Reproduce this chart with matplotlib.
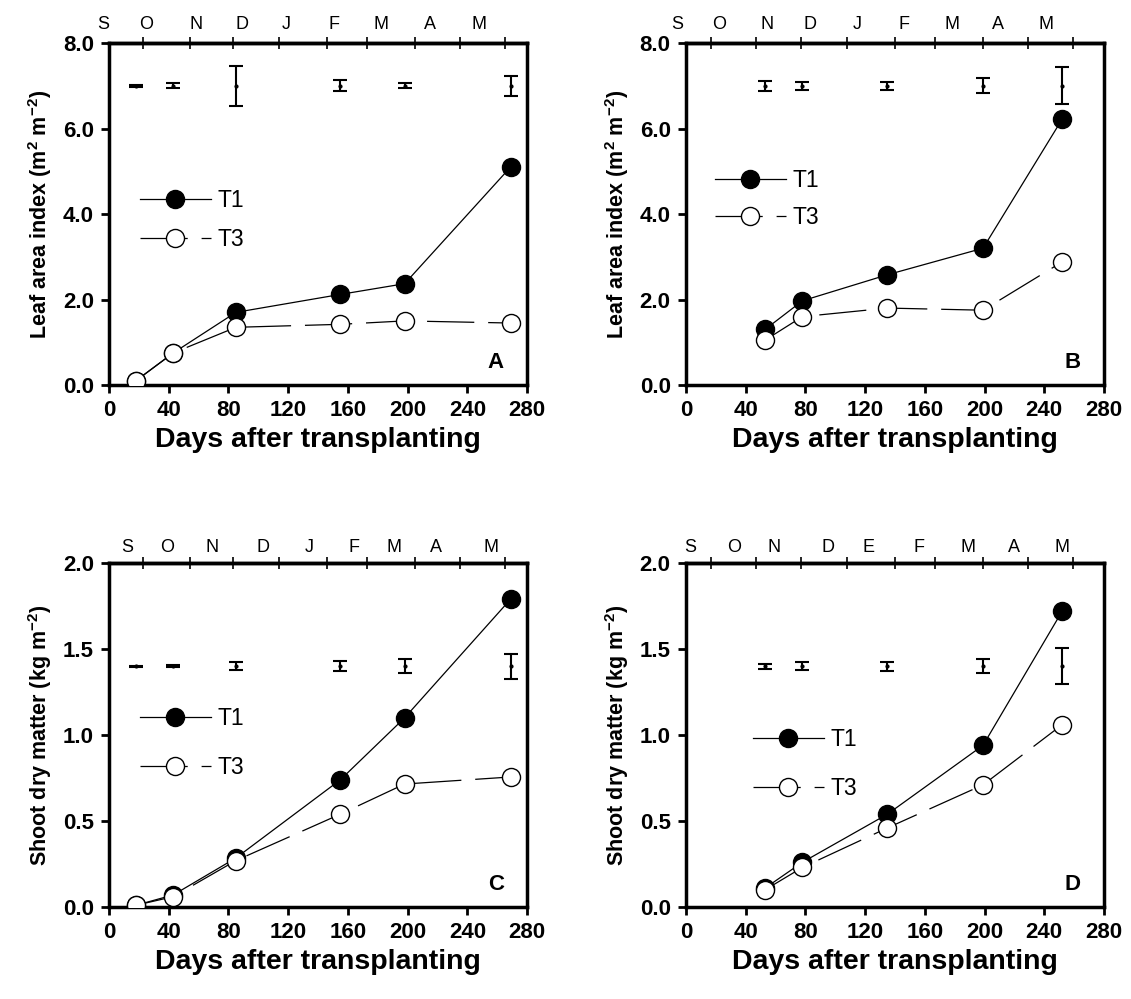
# Librerias

import numpy as np
import matplotlib
matplotlib.use("Agg")
import matplotlib.pyplot as plt

plt.rcParams["font.family"] = ["Liberation Sans", "DejaVu Sans"]
plt.rcParams["mathtext.default"] = "regular"
plt.rcParams["lines.scale_dashes"] = False

# Datos

dias_ac = [18, 43, 85, 155, 198, 269]
dias_bd = [53, 78, 135, 199, 252]

lai_a_t1 = [0.10, 0.75, 1.70, 2.12, 2.37, 5.10]
lai_a_t3 = [0.10, 0.75, 1.35, 1.42, 1.50, 1.45]
lai_a_err = [0.02, 0.06, 0.47, 0.13, 0.06, 0.24]

lai_b_t1 = [1.30, 1.97, 2.58, 3.20, 6.22]
lai_b_t3 = [1.05, 1.60, 1.80, 1.75, 2.88]
lai_b_err = [0.12, 0.10, 0.10, 0.18, 0.43]

sdm_c_t1 = [0.01, 0.07, 0.285, 0.74, 1.10, 1.79]
sdm_c_t3 = [0.01, 0.06, 0.27, 0.54, 0.715, 0.756]
sdm_c_err = [0.003, 0.005, 0.024, 0.029, 0.042, 0.073]

sdm_d_t1 = [0.11, 0.26, 0.54, 0.94, 1.72]
sdm_d_t3 = [0.10, 0.23, 0.46, 0.71, 1.06]
sdm_d_err = [0.015, 0.022, 0.026, 0.041, 0.104]

# Eje superior de meses (posiciones en dias)

meses_a = ["S", "O", "N", "D", "J", "F", "M", "A", "M"]
meses_d = ["S", "O", "N", "D", "E", "F", "M", "A", "M"]

marcas_ac = [23, 54, 83, 114, 146, 173, 205, 235, 265]
marcas_bd = [17, 47, 77, 108, 140, 167, 199, 229, 259]

pos_meses_a = [-4, 25, 58, 89, 119, 151, 182, 215, 248]
pos_meses_b = [-6, 22, 54, 83, 115, 146, 178, 209, 241]
pos_meses_c = [12, 39, 69, 103, 134, 164, 191, 219, 256]
pos_meses_d = [3, 32, 59, 95, 122, 156, 189, 220, 252]


def panel(ax, x, t1, t3, err, err_y, ymax, ystep, ylabel, letra,
          meses, pos_meses, marcas, mes_pad, leg_xy, leg_sp):
    ax.errorbar(x, [err_y] * len(x), yerr=err, fmt="o", ms=2, color="black",
                capsize=5, elinewidth=1.5, capthick=1.5, zorder=2)
    ax.plot(x, t1, color="black", lw=0.9, marker="o", ms=13,
            mfc="black", mec="black", zorder=3, label="T1")
    ax.plot(x, t3, color="black", lw=0.9, ls=(0, (34, 10)), marker="o", ms=13,
            mfc="white", mec="black", mew=1.0, zorder=3, label="T3")

    ax.set_xlim(0, 280)
    ax.set_ylim(0, ymax)
    ax.set_xticks(np.arange(0, 281, 40))
    ax.set_yticks(np.arange(0, ymax + 0.001, ystep))
    ax.set_yticklabels([f"{v:.1f}" for v in np.arange(0, ymax + 0.001, ystep)])
    for lab in ax.get_xticklabels() + ax.get_yticklabels():
        lab.set_fontweight("bold")
    ax.tick_params(axis="both", direction="out", length=6, width=2,
                   labelsize=16, pad=5)
    for s in ax.spines.values():
        s.set_linewidth(2.5)

    ax.set_xlabel("Days after transplanting", fontsize=20.5, fontweight="bold",
                  labelpad=4)
    ax.set_ylabel(ylabel, fontsize=15.5, fontweight="bold", labelpad=6)

    sec = ax.secondary_xaxis("top")
    sec.set_xticks(marcas)
    sec.set_xticklabels([""] * len(marcas))
    sec.tick_params(direction="inout", length=9, width=1.2)
    sec.spines["top"].set_linewidth(2.5)

    for m, p in zip(meses, pos_meses):
        ax.annotate(m, xy=(p, 1), xycoords=("data", "axes fraction"),
                    xytext=(0, mes_pad), textcoords="offset points",
                    ha="center", va="baseline", fontsize=13, annotation_clip=False)

    ax.text(0.925, 0.065, letra, transform=ax.transAxes, fontsize=16,
            fontweight="bold", ha="center", va="center")

    ax.legend(loc="center left", bbox_to_anchor=leg_xy, frameon=False,
              fontsize=16.5, handlelength=3.1, handletextpad=0.3,
              labelspacing=leg_sp, borderpad=0, borderaxespad=0)


fig = plt.figure(figsize=(11.31, 9.99), dpi=100)

ax_a = fig.add_axes([0.0964, 0.6146, 0.3696, 0.3423])
ax_b = fig.add_axes([0.6065, 0.6146, 0.3696, 0.3423])
ax_c = fig.add_axes([0.0964, 0.0921, 0.3696, 0.3443])
ax_d = fig.add_axes([0.6065, 0.0921, 0.3696, 0.3443])

lai_label = r"Leaf area index (m$^{2}$ m$^{-2}$)"
sdm_label = r"Shoot dry matter (kg m$^{-2}$)"

panel(ax_a, dias_ac, lai_a_t1, lai_a_t3, lai_a_err, 7.0, 8.0, 2.0, lai_label, "A",
      meses_a, pos_meses_a, marcas_ac, 10, (0.074, 0.483), 0.72)
panel(ax_b, dias_bd, lai_b_t1, lai_b_t3, lai_b_err, 7.0, 8.0, 2.0, lai_label, "B",
      meses_a, pos_meses_b, marcas_bd, 10, (0.069, 0.544), 0.57)
panel(ax_c, dias_ac, sdm_c_t1, sdm_c_t3, sdm_c_err, 1.4, 2.0, 0.5, sdm_label, "C",
      meses_a, pos_meses_c, marcas_ac, 8, (0.074, 0.477), 1.12)
panel(ax_d, dias_bd, sdm_d_t1, sdm_d_t3, sdm_d_err, 1.4, 2.0, 0.5, sdm_label, "D",
      meses_d, pos_meses_d, marcas_bd, 8, (0.16, 0.416), 1.12)

fig.savefig("out.png", dpi=100)
